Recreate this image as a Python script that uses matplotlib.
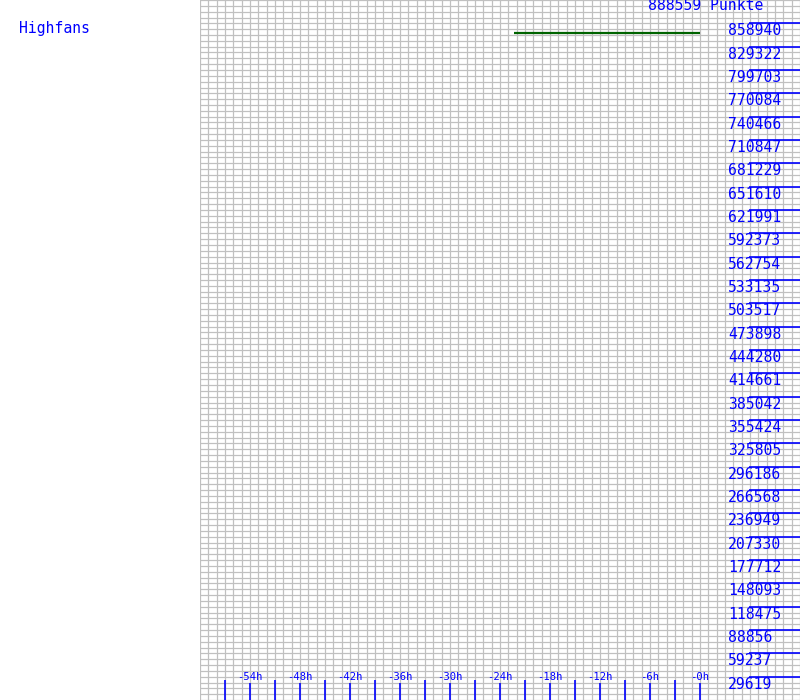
import numpy as np
import matplotlib.pyplot as plt
import matplotlib.transforms as mtransforms

# data
title_name = "Highfans"
max_points = 888559
hours = [-22.3, 0.0]
points = [846700, 846700]
hour_labels = [-54, -48, -42, -36, -30, -24, -18, -12, -6, 0]
hour_minor = [-57, -51, -45, -39, -33, -27, -21, -15, -9, -3]

BLUE = "#0000ff"
GRID = "#c0c0c0"
FONT = "DejaVu Sans Mono"

step = max_points / 30
y_ticks = [step * k for k in range(1, 30)]
y_labels = [f"{round(v)}" for v in y_ticks]

fig = plt.figure(figsize=(8, 7), dpi=100)
ax = fig.add_axes([0.25, 0, 0.75, 1])
ax.set_xlim(-60, 12)
ax.set_ylim(0, max_points)
ax.axis("off")

# background grid: one line per hour, four per label step
for h in np.arange(-60, 13, 1):
    ax.axvline(h, color=GRID, lw=0.9, zorder=0)
for v in np.arange(0, max_points + 1, step / 4):
    ax.axhline(v, color=GRID, lw=0.9, zorder=0)

bx = mtransforms.blended_transform_factory(ax.transData, ax.transAxes)
by = mtransforms.blended_transform_factory(ax.transAxes, ax.transData)

# bottom ticks
ax.vlines(hour_minor, 0, 20 / 700, color=BLUE, lw=1.2, transform=bx)
ax.vlines(hour_labels, 0, 17 / 700, color=BLUE, lw=1.2, transform=bx)
for h in hour_labels:
    ax.text(h, 23.5 / 700, f"-{abs(h)}h", transform=bx, ha="center", va="center",
            color=BLUE, fontsize=7.6, family=FONT)

# right ticks and labels
ax.hlines(y_ticks, 549 / 600, 1, color=BLUE, lw=1.2, transform=by)
for v, lab in zip(y_ticks, y_labels):
    ax.annotate(lab, xy=(528 / 600, v), xycoords=by, xytext=(0, -7.5),
                textcoords="offset pixels", ha="left", va="center",
                color=BLUE, fontsize=10.6, family=FONT)

ax.plot(hours, points, color="#006400", lw=1.6, solid_capstyle="butt")

fig.text(648 / 800, 1 - 6 / 700, f"{max_points} Punkte", ha="left", va="center",
         color=BLUE, fontsize=10.6, family=FONT)
fig.text(19 / 800, 1 - 28 / 700, title_name, ha="left", va="center",
         color=BLUE, fontsize=10.6, family=FONT)

fig.savefig("out.png", dpi=100)
